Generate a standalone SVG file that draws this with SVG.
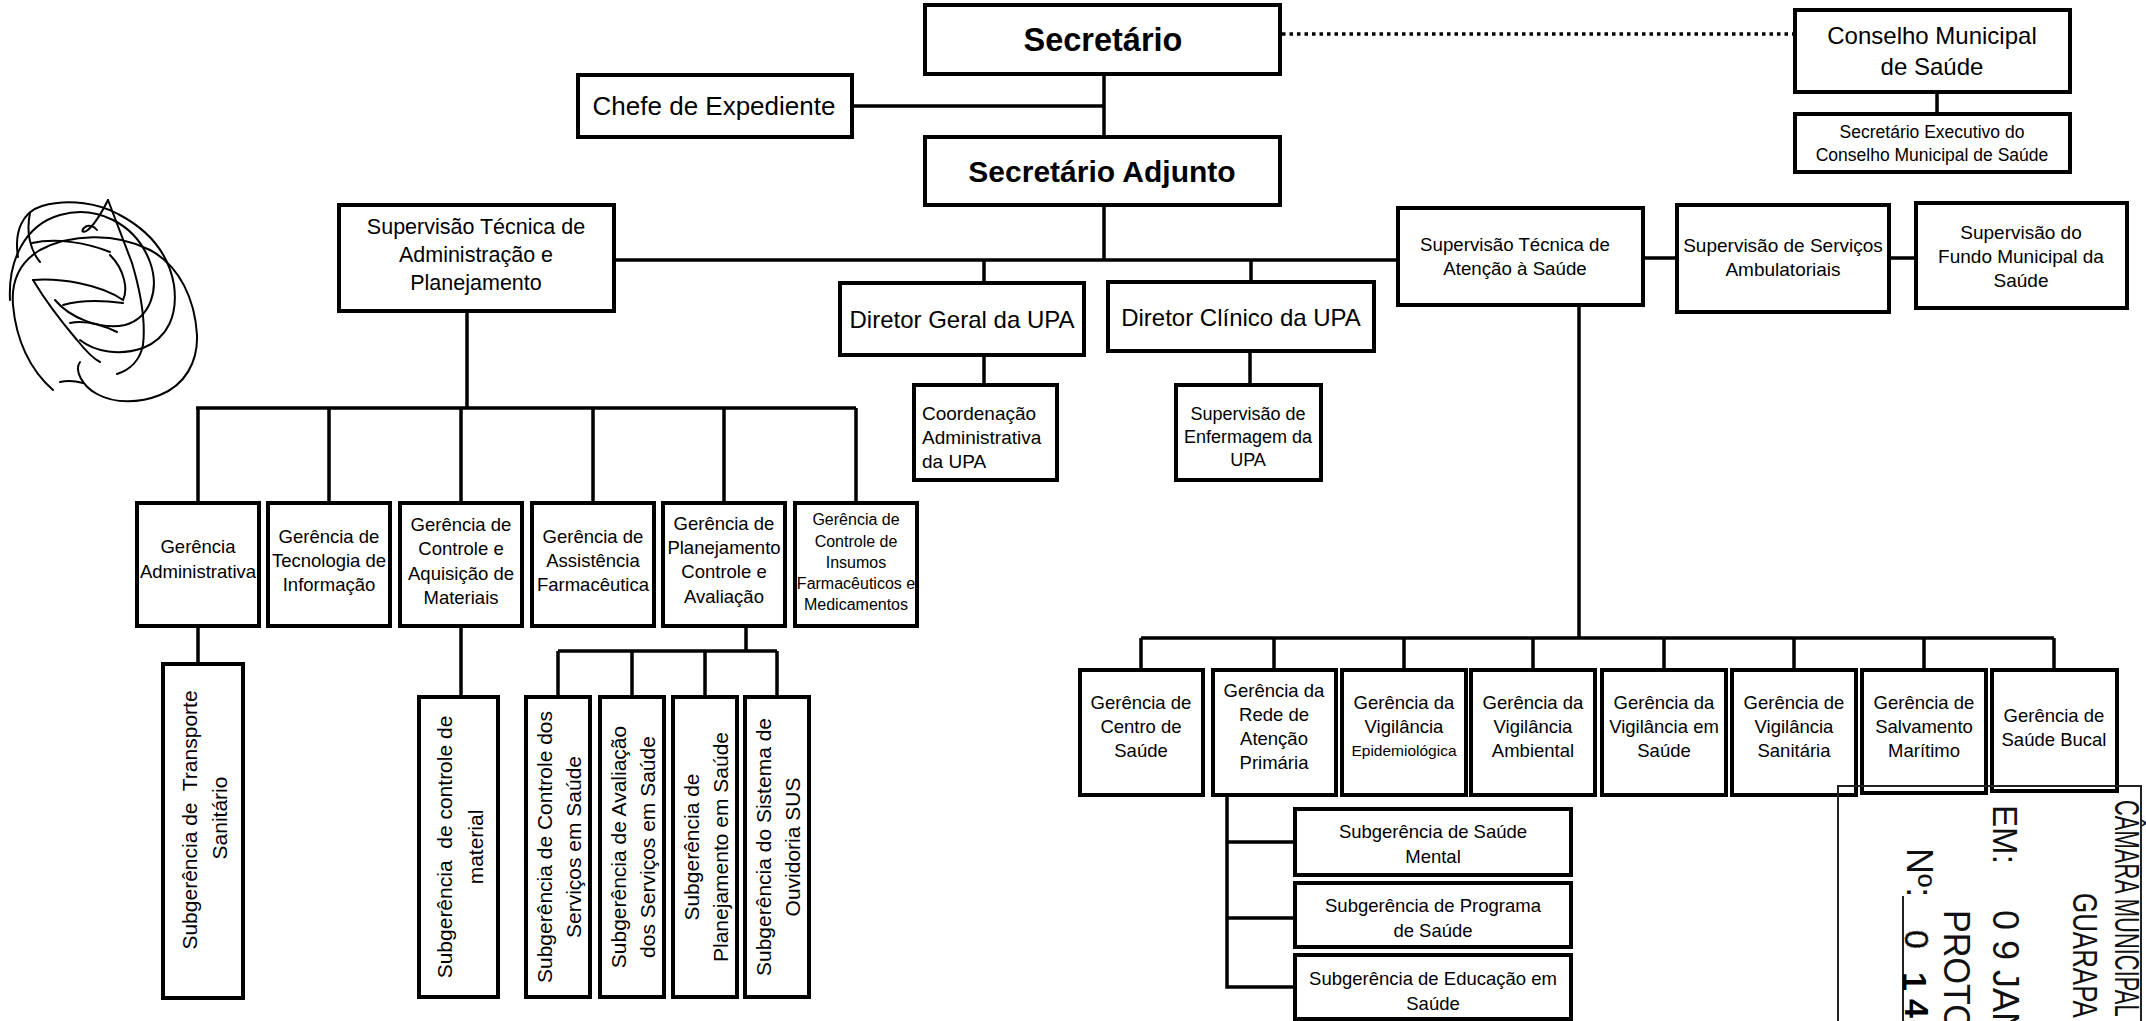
<svg xmlns="http://www.w3.org/2000/svg" width="2146" height="1021" viewBox="0 0 2146 1021">
  <style>
    .box { fill: #fff; stroke: #000; stroke-width: 4; }
    .ln { fill: none; stroke: #000; stroke-width: 3.5; }
    .dot { fill: none; stroke: #000; stroke-width: 3.5; stroke-dasharray: 3.5 4; }
    text { font-family: "Liberation Sans", Arial, Helvetica, sans-serif; fill: #000; }
    .c { text-anchor: middle; }
    .b { font-weight: bold; }
    .s16 { font-size: 16px; }
    .s155 { font-size: 15.5px; }
    .s175 { font-size: 17.5px; }
    .s18 { font-size: 18px; }
    .s185 { font-size: 18.5px; }
    .s19 { font-size: 19px; }
    .s21 { font-size: 21px; }
    .s215 { font-size: 21.5px; }
    .s24 { font-size: 24px; }
    .sig { fill: none; stroke: #000; stroke-width: 2; stroke-linecap: round; }
    .stamp { fill: none; stroke: #222; stroke-width: 2; }
    .st { font-size: 36px; fill: #111; }
  </style>

  <!-- connectors -->
  <g id="connectors">
    <line class="dot" x1="1282" y1="34" x2="1795" y2="34"/>
    <line class="ln" x1="1104" y1="74" x2="1104" y2="137"/>
    <line class="ln" x1="852" y1="106" x2="1104" y2="106"/>
    <line class="ln" x1="1937" y1="92" x2="1937" y2="114"/>
    <line class="ln" x1="1104" y1="205" x2="1104" y2="260"/>
    <line class="ln" x1="614" y1="260" x2="1398" y2="260"/>
    <line class="ln" x1="1643" y1="258" x2="1677" y2="258"/>
    <line class="ln" x1="1889" y1="258" x2="1916" y2="258"/>
    <line class="ln" x1="984" y1="260" x2="984" y2="283"/>
    <line class="ln" x1="1251" y1="260" x2="1251" y2="282"/>
    <line class="ln" x1="984" y1="355" x2="984" y2="385"/>
    <line class="ln" x1="1250" y1="351" x2="1250" y2="385"/>
    <!-- administration branch -->
    <line class="ln" x1="467" y1="311" x2="467" y2="408"/>
    <line class="ln" x1="196" y1="408" x2="856" y2="408"/>
    <line class="ln" x1="198" y1="408" x2="198" y2="503"/>
    <line class="ln" x1="329" y1="408" x2="329" y2="503"/>
    <line class="ln" x1="461" y1="408" x2="461" y2="503"/>
    <line class="ln" x1="593" y1="408" x2="593" y2="503"/>
    <line class="ln" x1="724" y1="408" x2="724" y2="503"/>
    <line class="ln" x1="856" y1="408" x2="856" y2="503"/>
    <line class="ln" x1="198" y1="626" x2="198" y2="664"/>
    <line class="ln" x1="461" y1="626" x2="461" y2="697"/>
    <line class="ln" x1="746" y1="626" x2="746" y2="651"/>
    <line class="ln" x1="558" y1="651" x2="777" y2="651"/>
    <line class="ln" x1="558" y1="651" x2="558" y2="697"/>
    <line class="ln" x1="632" y1="651" x2="632" y2="697"/>
    <line class="ln" x1="705" y1="651" x2="705" y2="697"/>
    <line class="ln" x1="777" y1="651" x2="777" y2="697"/>
    <!-- health care branch -->
    <line class="ln" x1="1579" y1="305" x2="1579" y2="638"/>
    <line class="ln" x1="1141" y1="638" x2="2054" y2="638"/>
    <line class="ln" x1="1141" y1="638" x2="1141" y2="670"/>
    <line class="ln" x1="1274" y1="638" x2="1274" y2="670"/>
    <line class="ln" x1="1404" y1="638" x2="1404" y2="670"/>
    <line class="ln" x1="1533" y1="638" x2="1533" y2="670"/>
    <line class="ln" x1="1664" y1="638" x2="1664" y2="670"/>
    <line class="ln" x1="1794" y1="638" x2="1794" y2="670"/>
    <line class="ln" x1="1924" y1="638" x2="1924" y2="670"/>
    <line class="ln" x1="2054" y1="638" x2="2054" y2="670"/>
    <polyline class="ln" points="1227,795 1227,987 1295,987"/>
    <line class="ln" x1="1227" y1="842" x2="1295" y2="842"/>
    <line class="ln" x1="1227" y1="918" x2="1295" y2="918"/>
  </g>

  <!-- top level -->
  <g id="secretario">
    <rect class="box" x="925" y="5" width="355" height="69"/>
    <text class="c b" x="1103" y="51" font-size="32.5">Secretário</text>
  </g>
  <g id="chefe-expediente">
    <rect class="box" x="578" y="75" width="274" height="62"/>
    <text class="c" font-size="26" x="714" y="115">Chefe de Expediente</text>
  </g>
  <g id="secretario-adjunto">
    <rect class="box" x="925" y="137" width="355" height="68"/>
    <text class="c b" x="1102" y="182" font-size="30">Secretário Adjunto</text>
  </g>
  <g id="conselho">
    <rect class="box" x="1795" y="10" width="275" height="82"/>
    <text class="c s24" x="1932" y="44">Conselho Municipal</text>
    <text class="c s24" x="1932" y="75">de Saúde</text>
  </g>
  <g id="secretario-executivo">
    <rect class="box" x="1795" y="114" width="275" height="58"/>
    <text class="c s175" x="1932" y="138">Secretário Executivo do</text>
    <text class="c s175" x="1932" y="161">Conselho Municipal de Saúde</text>
  </g>

  <!-- supervision level -->
  <g id="sup-administracao">
    <rect class="box" x="339" y="205" width="275" height="106"/>
    <text class="c s215" x="476" y="234">Supervisão Técnica de</text>
    <text class="c s215" x="476" y="262">Administração e</text>
    <text class="c s215" x="476" y="290">Planejamento</text>
  </g>
  <g id="diretor-geral">
    <rect class="box" x="840" y="283" width="244" height="72"/>
    <text class="c s24" x="962" y="328">Diretor Geral da UPA</text>
  </g>
  <g id="diretor-clinico">
    <rect class="box" x="1108" y="282" width="266" height="69"/>
    <text class="c s24" x="1241" y="326">Diretor Clínico da UPA</text>
  </g>
  <g id="coordenacao-upa">
    <rect class="box" x="914" y="385" width="143" height="95"/>
    <text class="s19" x="922" y="420">Coordenação</text>
    <text class="s19" x="922" y="444">Administrativa</text>
    <text class="s19" x="922" y="468">da UPA</text>
  </g>
  <g id="enfermagem-upa">
    <rect class="box" x="1176" y="385" width="145" height="95"/>
    <text class="c s18" x="1248" y="420">Supervisão de</text>
    <text class="c s18" x="1248" y="443">Enfermagem da</text>
    <text class="c s18" x="1248" y="466">UPA</text>
  </g>
  <g id="sup-atencao">
    <rect class="box" x="1398" y="208" width="245" height="97"/>
    <text class="c" font-size="18.7" x="1515" y="251">Supervisão Técnica de</text>
    <text class="c" font-size="18.7" x="1515" y="275">Atenção à Saúde</text>
  </g>
  <g id="sup-ambulatoriais">
    <rect class="box" x="1677" y="205" width="212" height="107"/>
    <text class="c s19" x="1783" y="252">Supervisão de Serviços</text>
    <text class="c s19" x="1783" y="276">Ambulatoriais</text>
  </g>
  <g id="sup-fundo">
    <rect class="box" x="1916" y="203" width="211" height="105"/>
    <text class="c s19" x="2021" y="239">Supervisão do</text>
    <text class="c s19" x="2021" y="263">Fundo Municipal da</text>
    <text class="c s19" x="2021" y="287">Saúde</text>
  </g>

  <!-- administration managements -->
  <g id="ger-administrativa">
    <rect class="box" x="137" y="503" width="122" height="123"/>
    <text class="c s185" x="198" y="553">Gerência</text>
    <text class="c s185" x="198" y="578">Administrativa</text>
  </g>
  <g id="ger-tecnologia">
    <rect class="box" x="268" y="503" width="122" height="123"/>
    <text class="c s185" x="329" y="543">Gerência de</text>
    <text class="c s185" x="329" y="567">Tecnologia de</text>
    <text class="c s185" x="329" y="591">Informação</text>
  </g>
  <g id="ger-materiais">
    <rect class="box" x="400" y="503" width="122" height="123"/>
    <text class="c s185" x="461" y="531">Gerência de</text>
    <text class="c s185" x="461" y="555">Controle e</text>
    <text class="c s185" x="461" y="580">Aquisição de</text>
    <text class="c s185" x="461" y="604">Materiais</text>
  </g>
  <g id="ger-farmaceutica">
    <rect class="box" x="532" y="503" width="122" height="123"/>
    <text class="c s185" x="593" y="543">Gerência de</text>
    <text class="c s185" x="593" y="567">Assistência</text>
    <text class="c s185" x="593" y="591">Farmacêutica</text>
  </g>
  <g id="ger-planejamento">
    <rect class="box" x="663" y="503" width="122" height="123"/>
    <text class="c s185" x="724" y="530">Gerência de</text>
    <text class="c s185" x="724" y="554">Planejamento</text>
    <text class="c s185" x="724" y="578">Controle e</text>
    <text class="c s185" x="724" y="603">Avaliação</text>
  </g>
  <g id="ger-insumos">
    <rect class="box" x="795" y="503" width="122" height="123"/>
    <text class="c s16" x="856" y="525">Gerência de</text>
    <text class="c s16" x="856" y="547">Controle de</text>
    <text class="c s16" x="856" y="568">Insumos</text>
    <text class="c s16" x="856" y="589">Farmacêuticos e</text>
    <text class="c s16" x="856" y="610">Medicamentos</text>
  </g>

  <!-- administration sub-managements (vertical text) -->
  <g id="sub-transporte">
    <rect class="box" x="163" y="664" width="80" height="334"/>
    <text class="c s21" transform="translate(197,820) rotate(-90)">Subgerência de&#160; Transporte</text>
    <text class="c s21" transform="translate(227,818) rotate(-90)">Sanitário</text>
  </g>
  <g id="sub-material">
    <rect class="box" x="419" y="697" width="79" height="300"/>
    <text class="c s21" transform="translate(452,847) rotate(-90)">Subgerência&#160; de controle de</text>
    <text class="c s21" transform="translate(483,847) rotate(-90)">material</text>
  </g>
  <g id="sub-controle-servicos">
    <rect class="box" x="526" y="697" width="64" height="300"/>
    <text class="c s21" transform="translate(552,847) rotate(-90)">Subgerência de Controle dos</text>
    <text class="c s21" transform="translate(581,847) rotate(-90)">Serviços em Saúde</text>
  </g>
  <g id="sub-avaliacao">
    <rect class="box" x="600" y="697" width="64" height="300"/>
    <text class="c s21" transform="translate(626,847) rotate(-90)">Subgerência de Avaliação</text>
    <text class="c s21" transform="translate(655,847) rotate(-90)">dos Serviços em Saúde</text>
  </g>
  <g id="sub-planejamento">
    <rect class="box" x="673" y="697" width="64" height="300"/>
    <text class="c s21" transform="translate(699,847) rotate(-90)">Subgerência de</text>
    <text class="c s21" transform="translate(728,847) rotate(-90)">Planejamento em Saúde</text>
  </g>
  <g id="sub-ouvidoria">
    <rect class="box" x="745" y="697" width="64" height="300"/>
    <text class="c s21" transform="translate(771,847) rotate(-90)">Subgerência do Sistema de</text>
    <text class="c s21" transform="translate(800,847) rotate(-90)">Ouvidoria SUS</text>
  </g>

  <!-- health care managements -->
  <g id="ger-centro-saude">
    <rect class="box" x="1080" y="670" width="123" height="125"/>
    <text class="c s185" x="1141" y="709">Gerência de</text>
    <text class="c s185" x="1141" y="733">Centro de</text>
    <text class="c s185" x="1141" y="757">Saúde</text>
  </g>
  <g id="ger-atencao-primaria">
    <rect class="box" x="1213" y="670" width="123" height="125"/>
    <text class="c s185" x="1274" y="697">Gerência da</text>
    <text class="c s185" x="1274" y="721">Rede de</text>
    <text class="c s185" x="1274" y="745">Atenção</text>
    <text class="c s185" x="1274" y="769">Primária</text>
  </g>
  <g id="ger-epidemiologica">
    <rect class="box" x="1342" y="670" width="124" height="125"/>
    <text class="c s185" x="1404" y="709">Gerência da</text>
    <text class="c s185" x="1404" y="733">Vigilância</text>
    <text class="c s155" x="1404" y="756">Epidemiológica</text>
  </g>
  <g id="ger-ambiental">
    <rect class="box" x="1471" y="670" width="124" height="125"/>
    <text class="c s185" x="1533" y="709">Gerência da</text>
    <text class="c s185" x="1533" y="733">Vigilância</text>
    <text class="c s185" x="1533" y="757">Ambiental</text>
  </g>
  <g id="ger-vigilancia-saude">
    <rect class="box" x="1602" y="670" width="124" height="125"/>
    <text class="c s185" x="1664" y="709">Gerência da</text>
    <text class="c s185" x="1664" y="733">Vigilância em</text>
    <text class="c s185" x="1664" y="757">Saúde</text>
  </g>
  <g id="ger-sanitaria">
    <rect class="box" x="1732" y="670" width="124" height="125"/>
    <text class="c s185" x="1794" y="709">Gerência de</text>
    <text class="c s185" x="1794" y="733">Vigilância</text>
    <text class="c s185" x="1794" y="757">Sanitária</text>
  </g>
  <g id="ger-salvamento">
    <rect class="box" x="1862" y="670" width="124" height="123"/>
    <text class="c s185" x="1924" y="709">Gerência de</text>
    <text class="c s185" x="1924" y="733">Salvamento</text>
    <text class="c s185" x="1924" y="757">Marítimo</text>
  </g>
  <g id="ger-saude-bucal">
    <rect class="box" x="1992" y="670" width="125" height="121"/>
    <text class="c s185" x="2054" y="722">Gerência de</text>
    <text class="c s185" x="2054" y="746">Saúde Bucal</text>
  </g>

  <!-- primary care sub-managements -->
  <g id="sub-saude-mental">
    <rect class="box" x="1295" y="809" width="276" height="66"/>
    <text class="c s185" x="1433" y="838">Subgerência de Saúde</text>
    <text class="c s185" x="1433" y="863">Mental</text>
  </g>
  <g id="sub-programa">
    <rect class="box" x="1295" y="883" width="276" height="64"/>
    <text class="c s185" x="1433" y="912">Subgerência de Programa</text>
    <text class="c s185" x="1433" y="937">de Saúde</text>
  </g>
  <g id="sub-educacao">
    <rect class="box" x="1295" y="955" width="276" height="64"/>
    <text class="c s185" x="1433" y="985">Subgerência de Educação em</text>
    <text class="c s185" x="1433" y="1010">Saúde</text>
  </g>

  <!-- handwritten signature -->
  <g id="assinatura">
    <path class="sig" d="M108,200 L132,263 C140,290 146,320 143,345 C140,360 130,370 117,374"/>
    <path class="sig" d="M108,200 C102,212 96,222 90,228 C84,234 80,232 84,228 C88,224 94,226 97,230"/>
    <path class="sig" d="M18,257 C14,232 22,212 42,206 C70,198 100,204 118,214 C145,228 168,250 174,285 C178,315 168,338 143,348 C120,356 95,352 80,340"/>
    <path class="sig" d="M53,390 C30,370 16,340 13,305 C11,280 20,262 40,250 C70,234 115,232 150,250 C180,266 195,300 197,335 C198,362 185,385 160,395 C140,403 115,404 97,394 C82,386 74,370 80,362"/>
    <path class="sig" d="M10,300 C8,260 25,225 60,215 C95,205 135,222 150,262 C160,290 150,318 125,325 C100,330 70,318 55,300"/>
    <path class="sig" d="M32,243 C55,238 85,242 110,252"/>
    <path class="sig" d="M33,280 C60,278 100,284 123,300 C128,290 125,270 110,255"/>
    <path class="sig" d="M63,305 C80,300 100,300 123,303"/>
    <path class="sig" d="M70,323 C85,320 100,324 117,332"/>
    <path class="sig" d="M33,280 C45,300 60,320 77,340 C85,350 92,358 100,362"/>
    <path class="sig" d="M60,382 C68,380 76,381 83,383"/>
    <path class="sig" d="M30,213 C26,232 30,250 40,262"/>
  </g>

  <!-- reception stamp -->
  <g id="carimbo">
    <polyline class="stamp" points="1838,1021 1838,786 2141,786 2141,1021"/>
    <text class="st" transform="translate(2115,800) rotate(90) scale(0.61,1)">CÂMARA MUNICIPAL</text>
    <text class="st" transform="translate(2073,893) rotate(90) scale(0.72,1)">GUARAPA</text>
    <text class="st" transform="translate(1993,805) rotate(90) scale(0.92,1)">EM:</text>
    <text class="st" transform="translate(1993,910) rotate(90)">0 9 JAN</text>
    <text class="st" transform="translate(1944,910) rotate(90) scale(0.95,1)">PROTO</text>
    <text class="st" transform="translate(1907,848) rotate(90)">Nº:</text>
    <line class="stamp" x1="1903" y1="896" x2="1903" y2="1021"/>
    <text transform="translate(1905,930) rotate(90)" font-size="34" fill="none" stroke="#555" stroke-width="1" stroke-dasharray="2 2">0</text>
    <text class="b" transform="translate(1903,972) rotate(90)" font-size="34">1</text>
    <text class="b" transform="translate(1905,999) rotate(90)" font-size="34">4</text>
  </g>
</svg>
